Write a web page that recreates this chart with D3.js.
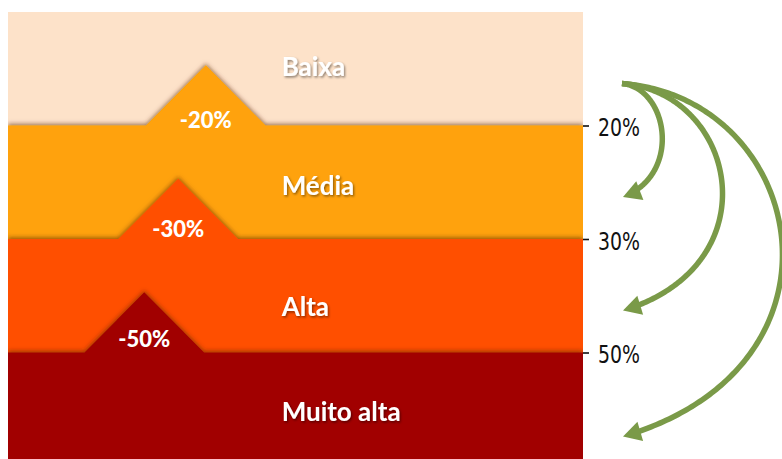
<!DOCTYPE html>
<html>
<head>
<meta charset="utf-8">
<script src="https://cdn.jsdelivr.net/npm/d3@7"></script>
<style>
  html, body { margin: 0; padding: 0; background: #fff; }
  svg { display: block; }
</style>
</head>
<body>
<svg id="chart" width="782" height="459"></svg>
<script>
// ---- data ----
const categories = ["Baixa", "Média", "Alta", "Muito alta"];
const thresholds = ["20%", "30%", "50%"];
const reductions = ["-20%", "-30%", "-50%"];
const peakAt = [34.4, 29.6, 23.7];           // horizontal position of each peak (% of width)
const arrowTargets = ["Média", "Alta", "Muito alta"];

// ---- setup ----
const W = 782, H = 459;
const svg = d3.select("#chart");
const x = d3.scaleLinear().domain([0, 100]).range([8, 583]);
const y = d3.scaleLinear().domain([0, categories.length]).range([12, 466]);
const color = d3.scaleOrdinal(categories, ["#fde2c9", "#ffa207", "#ff5003", "#a10000"]);
const peakH = 0.53, peakHalf = 10.4;

const defs = svg.append("defs");
defs.append("clipPath").attr("id", "clip")
  .append("rect").attr("x", x(0)).attr("y", y(0))
  .attr("width", x(100) - x(0)).attr("height", H - y(0));
const sh = defs.append("filter").attr("id", "edge")
  .attr("x", "-10%").attr("y", "-20%").attr("width", "120%").attr("height", "140%");
sh.append("feDropShadow").attr("dx", 0).attr("dy", -1.5).attr("stdDeviation", 2.2)
  .attr("flood-color", "#5a2800").attr("flood-opacity", 0.6);
const ts = defs.append("filter").attr("id", "txt")
  .attr("x", "-10%").attr("y", "-20%").attr("width", "130%").attr("height", "160%");
ts.append("feDropShadow").attr("dx", 1.2).attr("dy", 1.5).attr("stdDeviation", 0.9)
  .attr("flood-color", "#000").attr("flood-opacity", 0.45);

const plot = svg.append("g").attr("clip-path", "url(#clip)");
const line = d3.line();

categories.forEach((c, i) => {
  let pts;
  if (i === 0) {
    pts = [[x(0), y(0)], [x(100), y(0)], [x(100), y(4)], [x(0), y(4)]];
  } else {
    const p = peakAt[i - 1];
    pts = [[x(0), y(i)], [x(p - peakHalf), y(i)], [x(p), y(i - peakH)],
           [x(p + peakHalf), y(i)], [x(100), y(i)], [x(100), y(4)], [x(0), y(4)]];
  }
  plot.append("path").attr("d", line(pts) + "Z")
    .attr("fill", color(c))
    .attr("filter", i === 0 ? null : "url(#edge)");
});

// category labels
const labelBase = [0.56, 0.61, 0.68, 0.6];
plot.selectAll("text.cat").data(categories).join("text")
  .attr("class", "cat")
  .attr("x", x(47.6))
  .attr("y", (d, i) => y(i + labelBase[i]))
  .attr("fill", "#fff")
  .attr("font-family", "Lato, 'Open Sans', sans-serif")
  .attr("font-weight", "bold")
  .attr("font-size", 26)
  .attr("filter", "url(#txt)")
  .text(d => d);

// reduction labels in peaks
const redBase = [0.02, -0.018, -0.048];
plot.selectAll("text.red").data(reductions).join("text")
  .attr("class", "red")
  .attr("x", (d, i) => x(peakAt[i]))
  .attr("y", (d, i) => y(i + 1 + redBase[i]))
  .attr("text-anchor", "middle")
  .attr("fill", "#fff")
  .attr("font-family", "Lato, 'Open Sans', sans-serif")
  .attr("font-weight", 900)
  .attr("font-size", 22)
  .text(d => d);

// right axis
const axis = svg.append("g").attr("transform", `translate(${x(100)},0)`)
  .call(d3.axisRight(y).tickValues([1, 2, 3])
    .tickFormat((d, i) => thresholds[i]).tickSize(6).tickPadding(9));
axis.select(".domain").remove();
axis.selectAll(".tick line").attr("stroke", "#111").attr("stroke-width", 1.6);
axis.selectAll(".tick text")
  .attr("font-family", "'Liberation Sans Narrow', 'DejaVu Sans Condensed', sans-serif")
  .attr("font-size", 25).attr("fill", "#111").attr("dy", "0.4em")
  .attr("textLength", 42).attr("lengthAdjust", "spacingAndGlyphs");

// arrows
const green = "#7a9a48";
const sx = x(100) + 39, sy = y(0.63);
const bulge = [57.6, 144, 230];
const endOff = [0.63, 0.63, 0.74];
const ag = svg.append("g");
arrowTargets.forEach((t, k) => {
  const idx = categories.indexOf(t);
  const tx = sx + 1, ty = y(idx + endOff[k]);
  const Hh = ty - sy, B = bulge[k];
  const P0 = [sx, sy], P1 = [sx + 0.8 * B, sy + 0.04 * Hh],
        P2 = [sx + 1.05 * B, ty - 0.2 * Hh], P3 = [tx, ty];
  const bez = t2 => {
    const u = 1 - t2;
    return [u*u*u*P0[0] + 3*u*u*t2*P1[0] + 3*u*t2*t2*P2[0] + t2*t2*t2*P3[0],
            u*u*u*P0[1] + 3*u*u*t2*P1[1] + 3*u*t2*t2*P2[1] + t2*t2*t2*P3[1]];
  };
  const samples = d3.range(0, 1.0001, 0.005).map(bez);
  let acc = 0, cut = samples.length - 1;
  for (let j = samples.length - 1; j > 0; j--) {
    acc += Math.hypot(samples[j][0] - samples[j-1][0], samples[j][1] - samples[j-1][1]);
    if (acc >= 13) { cut = j; break; }
  }
  const body = samples.slice(0, cut + 1);
  ag.append("path").attr("d", d3.line()(body))
    .attr("fill", "none").attr("stroke", green).attr("stroke-width", 5.5);
  const dx = P3[0] - P2[0], dy = P3[1] - P2[1];
  const L = Math.hypot(dx, dy), ux = dx / L, uy = dy / L;
  const hl = 18, hw = 10;
  const bx = P3[0] - ux * hl, by = P3[1] - uy * hl;
  const head = [[P3[0], P3[1]], [bx - uy * hw, by + ux * hw], [bx + uy * hw, by - ux * hw]];
  ag.append("path").attr("d", d3.line()(head) + "Z").attr("fill", green);
});
</script>
</body>
</html>
